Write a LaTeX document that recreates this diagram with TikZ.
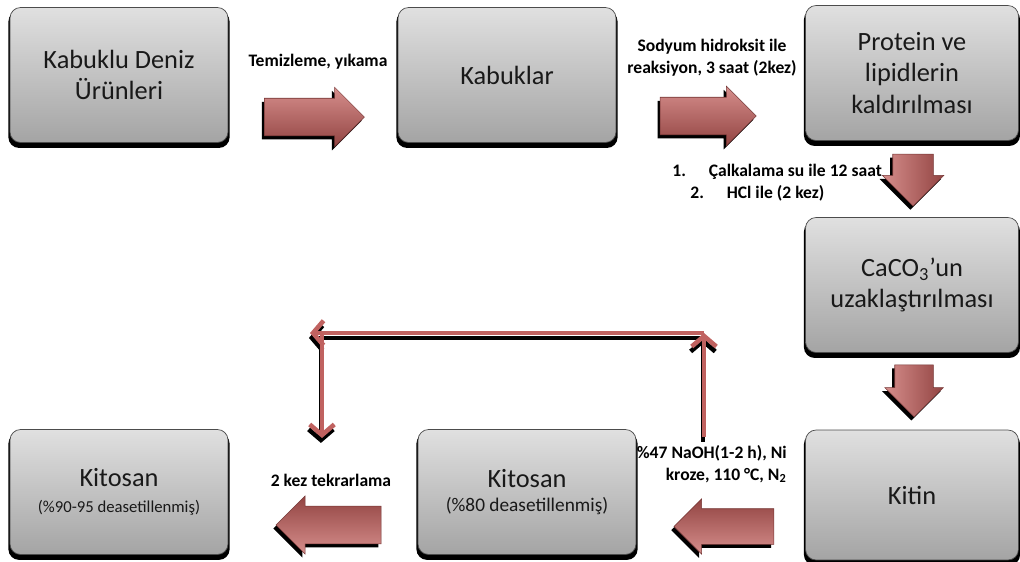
\documentclass[tikz,border=0pt]{standalone}
\usepackage{fontspec}
\setmainfont{Carlito}
\definecolor{BoxTop}{RGB}{224,224,224}
\definecolor{BoxBot}{RGB}{164,164,164}
\definecolor{ArrTop}{RGB}{214,142,140}
\definecolor{ArrBot}{RGB}{146,68,66}
\definecolor{ArrLine}{RGB}{192,98,96}
\usetikzlibrary{arrows.meta, positioning, calc, shapes.arrows, shadows}

\begin{document}
\begin{tikzpicture}[
      x=0.02cm, y=-0.02cm,
      stage/.style={draw=black!70, line width=0.4pt, rounded corners=6pt,
        top color=BoxTop, bottom color=BoxBot, text=black!90,
        minimum width=4.36cm, minimum height=2.7cm, inner sep=2pt, align=center,
        font=\fontsize{15}{18}\selectfont,
        drop shadow={shadow xshift=0pt, shadow yshift=-2.5pt, shadow scale=1.015, opacity=1, fill=black}},
      fat/.style={single arrow, single arrow head extend=0.22cm, minimum width=1.18cm,
        minimum height=2cm, inner xsep=0pt, inner ysep=0.37cm, top color=ArrTop, bottom color=ArrBot,
        draw=ArrBot!80!black, line width=0.3pt,
        drop shadow={shadow xshift=-1.5pt, shadow yshift=-2pt, opacity=1, fill=black}},
      cond/.style={font=\fontsize{10}{12.5}\selectfont\bfseries, align=center, inner sep=0pt},
      loopline/.style={line width=2.6pt, -{Straight Barb[length=6pt, width=14pt]}}
    ]
      \useasboundingbox (0,0) rectangle (1020,561);
      % process boxes
      \node[stage] (shell) at (119,75) {Kabuklu Deniz\\Ürünleri};
      \node[stage] (kab) at (507,75) {Kabuklar};
      \node[stage, minimum width=4.26cm] (prot) at (912,73) {Protein ve\\lipidlerin\\kaldırılması};
      \node[stage, minimum width=4.26cm] (caco) at (912,285) {CaCO\textsubscript{3}’un\\uzaklaştırılması};
      \node[stage, minimum width=4.26cm, minimum height=2.6cm] (kitin) at (912,495) {Kitin};
      \node[stage, minimum height=2.5cm] (kit80) at (527,492)
        {Kitosan\\[-4pt]{\fontsize{11}{12}\selectfont (\%80 deasetillenmiş)}};
      \node[stage, minimum height=2.5cm] (kit90) at (119,492)
        {Kitosan\\[-3pt]{\fontsize{9.5}{12}\selectfont (\%90-95 deasetillenmiş)}};
      % block arrows between the boxes
      \node[fat] (a1) at ($(shell.east)!0.5!(kab.west)+(-8,42)$) {};
      \node[fat, minimum height=1.92cm] (a2) at ($(kab.east)!0.5!(prot.west)+(-12,42)$) {};
      \node[fat, rotate=-90, shading angle=90, minimum width=1.22cm, single arrow head extend=0.21cm,
            inner ysep=0.4cm, minimum height=1.04cm] (a3) at ($(prot.south)!0.5!(caco.north)+(1,-9)$) {};
      \node[fat, rotate=-90, shading angle=90, minimum width=1.16cm, single arrow head extend=0.2cm,
            inner ysep=0.38cm, minimum height=1.04cm] (a4) at ($(caco.south)!0.5!(kitin.north)+(2,-10)$) {};
      \node[fat, rotate=180, shading angle=180, minimum width=1.1cm, single arrow head extend=0.2cm,
            inner ysep=0.35cm] (a5) at ($(kitin.west)!0.5!(kit80.east)+(12,33)$) {};
      \node[fat, rotate=180, shading angle=180, minimum width=1.16cm, single arrow head extend=0.2cm,
            inner ysep=0.37cm, minimum height=2.1cm] (a6) at ($(kit80.west)!0.5!(kit90.east)+(15,33)$) {};
      % conditions
      \node[cond] (wash) at (318,62) {Temizleme, yıkama};
      \node[cond] (naoh) at (712,58) {Sodyum hidroksit ile\\reaksiyon, 3 saat (2kez)};
      \node[cond, anchor=west] (calk) at (672,172) {1.\hspace{1.3em}Çalkalama su ile 12 saat};
      \node[cond, anchor=west] (hcl) at (690,193) {2.\hspace{1.3em}HCl ile (2 kez)};
      \node[cond, align=right, anchor=east] (deac) at (787,464)
        {\%47 NaOH(1-2 h), Ni\\kroze, 110 °C, N\textsubscript{2}};
      \node[cond] (rep) at (331,480) {2 kez tekrarlama};
      % repeat loop
      \coordinate (riseB) at (704,437);
      \coordinate (riseT) at (704,333);
      \coordinate (backL) at (310,333);
      \coordinate (dropT) at (322,333);
      \coordinate (dropB) at (322,438);
      \foreach \col/\dx/\dy in {black/-0.6pt/-2.8pt, ArrLine/0pt/0pt} {
        \begin{scope}[transform canvas={xshift=\dx, yshift=\dy}]
          \draw[loopline, draw=\col] (riseB) -- (riseT);
          \draw[loopline, draw=\col] (riseT) -- (backL);
          \draw[loopline, draw=\col] (dropT) -- (dropB);
        \end{scope}
      }
    \end{tikzpicture}
\end{document}
